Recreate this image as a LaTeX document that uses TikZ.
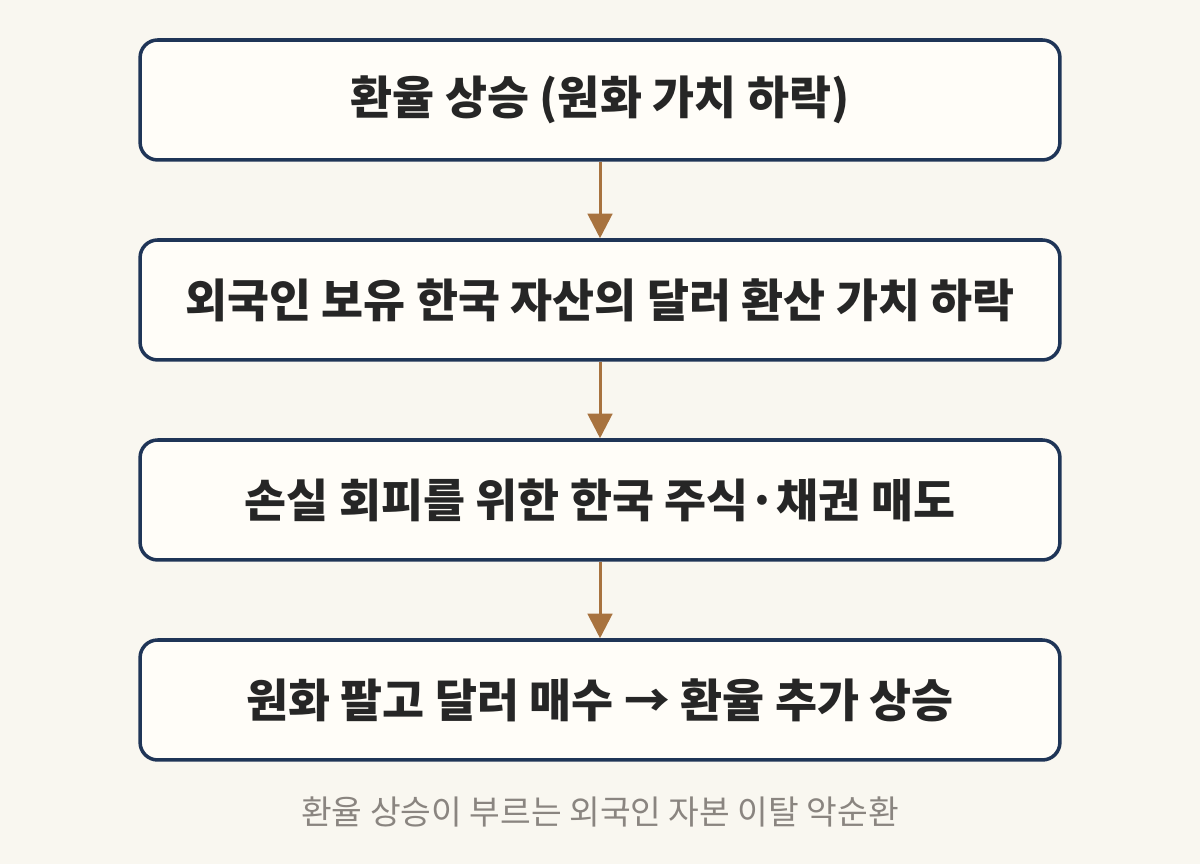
\documentclass[tikz,border=0pt]{standalone}
\usepackage{fontspec}
\setmainfont{Noto Sans CJK KR}
\usetikzlibrary{arrows.meta}
\definecolor{bgcol}{HTML}{F9F7F0}
\definecolor{boxfill}{HTML}{FFFDF8}
\definecolor{navy}{HTML}{1F3557}
\definecolor{brown}{HTML}{A8733F}
\definecolor{capgray}{HTML}{8A8580}
\tikzset{
  stage/.style={draw=navy, line width=2pt, fill=boxfill, rounded corners=10pt,
    minimum width=18.4cm, minimum height=2.4cm, font=\fontsize{26}{30}\selectfont\bfseries, text=black!85},
  flow/.style={draw=brown, line width=1.7pt, -{Triangle[length=14pt,width=14pt]}}
}
\begin{document}
\begin{tikzpicture}[x=0.02cm,y=0.02cm]
% background
    \fill[bgcol] (0,0) rectangle (1200,864);
    \useasboundingbox (0,0) rectangle (1200,864);
% stages
    \node[stage] (rise) at (600,764) {환율 상승 (원화 가치 하락)};
    \node[stage] (value) at (600,564) {외국인 보유 한국 자산의 달러 환산 가치 하락};
    \node[stage] (sell) at (600,364) {손실 회피를 위한 한국 주식·채권 매도};
    \node[stage] (buy) at (600,164) {원화 팔고 달러 매수 → 환율 추가 상승};
% arrows
    \draw[flow] (rise) -- (value);
    \draw[flow] (value) -- (sell);
    \draw[flow] (sell) -- (buy);
% caption
    \node[text=capgray, font=\fontsize{19}{22}\selectfont] (caption) at (600,52) {환율 상승이 부르는 외국인 자본 이탈 악순환};
\end{tikzpicture}
\end{document}
